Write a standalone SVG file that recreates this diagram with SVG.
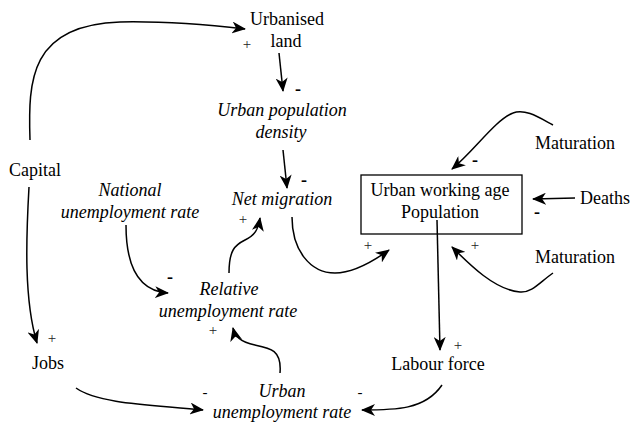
<svg xmlns="http://www.w3.org/2000/svg" width="630" height="425" viewBox="0 0 630 425">
<style>
text{font-family:"Liberation Serif",serif;font-size:18px;fill:#000}
.i{font-style:italic}
.c{text-anchor:middle}
.p{font-size:15px;fill:#222}
.m{font-weight:bold}
.mt{font-size:15px}
.e{fill:none;stroke:#000;stroke-width:1.5;marker-end:url(#ah)}
</style>
<defs>
<marker id="ah" viewBox="0 0 14 12" refX="13" refY="6" markerWidth="14" markerHeight="12" markerUnits="userSpaceOnUse" orient="auto">
<path d="M0,0 L14,6 L0,12 L4,6 z" fill="#000"/>
</marker>
</defs>
<g id="connectors">
<path class="e" d="M30,140 C28,80 30,25 120,22 C170,21 210,25 245,29"/>
<path class="e" d="M29,187 C26,240 24,300 37,343"/>
<path class="e" d="M279,53 L283,91"/>
<path class="e" d="M283,150 L287,188"/>
<path class="e" d="M229,273 C229,250 235,245 245,240 C255,235 258,230 260,218"/>
<path class="e" d="M126,225 C126,262 136,291 168,293"/>
<path class="e" d="M280,373 C282,350 270,348 255,345 C240,342 235,336 233,328"/>
<path class="e" d="M76,388 C100,405 160,405 203,410"/>
<path class="e" d="M437,220 L440,350"/>
<path class="e" d="M442,385 C425,410 395,410 362,410"/>
<path class="e" d="M292,217 C292,250 310,273 335,273 C355,273 375,260 389,250"/>
<path class="e" d="M553,125 C540,118 525,108 513,113 C495,120 475,150 452,169"/>
<path class="e" d="M575,198 L533,199"/>
<path class="e" d="M553,273 C540,282 532,293 520,292 C495,290 470,265 452,247"/>
</g>
<g id="urbanised-land"><text class="c" x="287" y="25">Urbanised</text><text class="c" x="286" y="47">land</text></g>
<g id="urban-population-density"><text class="c i" x="282" y="116">Urban population</text><text class="c i" x="281" y="138">density</text></g>
<g id="net-migration"><text class="c i" x="282" y="205">Net migration</text></g>
<g id="capital"><text class="c" x="35" y="176">Capital</text></g>
<g id="national-unemployment-rate"><text class="c i" x="130" y="196">National</text><text class="c i" x="130" y="218">unemployment rate</text></g>
<g id="relative-unemployment-rate"><text class="c i" x="229" y="295">Relative</text><text class="c i" x="228" y="317">unemployment rate</text></g>
<g id="jobs"><text class="c" x="48" y="369">Jobs</text></g>
<g id="urban-unemployment-rate"><text class="c i" x="282" y="397">Urban</text><text class="c i" x="282" y="418">unemployment rate</text></g>
<g id="labour-force"><text class="c" x="438" y="370">Labour force</text></g>
<g id="urban-working-age-population"><rect x="361" y="175" width="161" height="59" fill="none" stroke="#000" stroke-width="1.3"/><text class="c" x="440" y="196">Urban working age</text><text class="c" x="440" y="218">Population</text></g>
<g id="maturation-top"><text x="535" y="149">Maturation</text></g>
<g id="deaths"><text x="580" y="204">Deaths</text></g>
<g id="maturation-bottom"><text x="535" y="263">Maturation</text></g>
<g id="polarities">
<text class="c p" x="247" y="49">+</text>
<text class="c m" x="298" y="95">-</text>
<text class="c m" x="304" y="186">-</text>
<text class="c p" x="243" y="224">+</text>
<text class="c m" x="170" y="283">-</text>
<text class="c p" x="213" y="335">+</text>
<text class="c p" x="52" y="343">+</text>
<text class="c mt" x="205" y="397">-</text>
<text class="c mt" x="360" y="397">-</text>
<text class="c p" x="458" y="350">+</text>
<text class="c p" x="368" y="250">+</text>
<text class="c m" x="475" y="166">-</text>
<text class="c m" x="537" y="218">-</text>
<text class="c p" x="475" y="250">+</text>
</g>
</svg>
